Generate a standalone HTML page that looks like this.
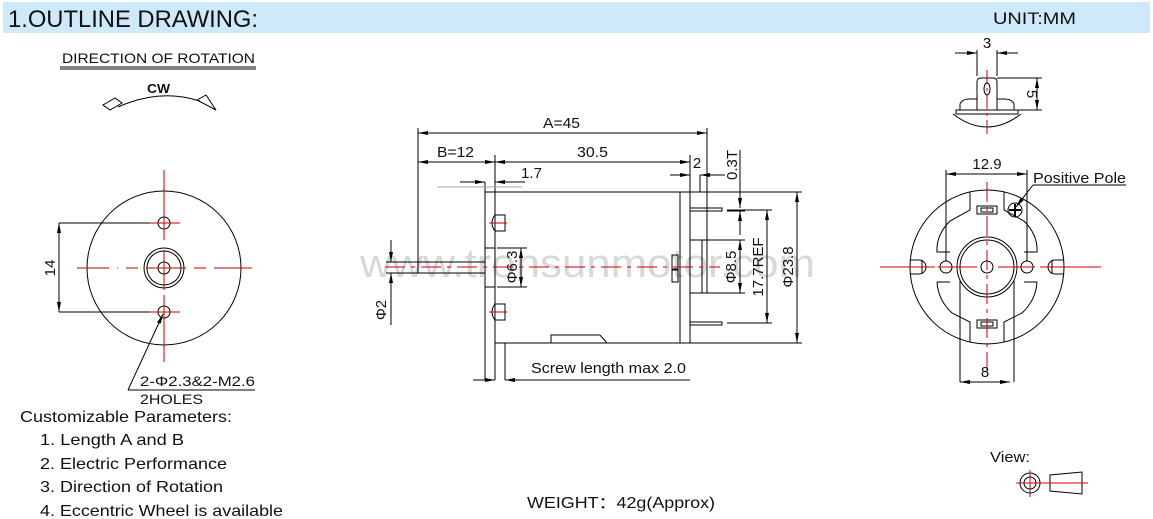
<!DOCTYPE html>
<html><head><meta charset="utf-8"><style>
html,body{margin:0;padding:0;background:#fff}
svg{display:block}
text{font-family:"Liberation Sans",Arial,sans-serif;fill:#111}
</style></head><body>
<svg width="1153" height="519" viewBox="0 0 1153 519" xmlns="http://www.w3.org/2000/svg">
<defs>
<marker id="a" viewBox="0 0 10 4" refX="10" refY="2" markerWidth="10" markerHeight="4" orient="auto-start-reverse" markerUnits="userSpaceOnUse"><path d="M0,0L10,2L0,4z" fill="#000"/></marker>
</defs>
<rect x="3" y="2" width="1147" height="31" fill="#cde9fa"/>
<text x="8" y="27" font-size="24" textLength="250" lengthAdjust="spacingAndGlyphs">1.OUTLINE DRAWING:</text>
<text x="993" y="24" font-size="17" textLength="83" lengthAdjust="spacingAndGlyphs">UNIT:MM</text>

<!-- direction of rotation -->
<text x="62" y="63" font-size="14" textLength="193" lengthAdjust="spacingAndGlyphs">DIRECTION OF ROTATION</text>
<line x1="60" y1="67" x2="256" y2="67" stroke="#000"/><line x1="60" y1="69" x2="256" y2="69" stroke="#000"/>
<text x="147" y="93" font-size="13" font-weight="bold" textLength="23" lengthAdjust="spacingAndGlyphs">CW</text>
<path d="M118,107 Q160,88 200,101" fill="none" stroke="#000"/>
<path d="M103,105 L115,98 L122,103 L110,110 Z" fill="none" stroke="#000"/>
<path d="M197,100 L206,95 L216,110 Z" fill="none" stroke="#000"/>

<!-- left front view -->
<g fill="none" stroke="#000" stroke-width="1">
<circle cx="164" cy="268" r="77"/>
<circle cx="164" cy="268" r="20"/><circle cx="164" cy="268" r="17"/><circle cx="164" cy="268" r="6"/>
<circle cx="164" cy="223" r="6"/><circle cx="164" cy="312" r="6"/>
<line x1="59" y1="223" x2="160" y2="223"/><line x1="59" y1="312" x2="160" y2="312"/>
<line x1="59" y1="223" x2="59" y2="312" marker-start="url(#a)" marker-end="url(#a)"/>
<line x1="128" y1="390" x2="163" y2="314" marker-end="url(#a)"/>
<line x1="128" y1="390" x2="255" y2="390"/>
</g>
<g stroke="#c00" stroke-width="1" fill="none">
<line x1="164" y1="170" x2="164" y2="240"/><line x1="164" y1="250" x2="164" y2="290"/><line x1="164" y1="295" x2="164" y2="362"/>
<line x1="150" y1="223" x2="180" y2="223"/><line x1="150" y1="312" x2="180" y2="312"/>
<line x1="77" y1="268" x2="118" y2="268" stroke-dasharray="32,8"/><line x1="126" y1="268" x2="252" y2="268" stroke-dasharray="12,8,40,8"/>
</g>
<text x="55" y="268" font-size="15" transform="rotate(-90 55 268)" text-anchor="middle">14</text>
<text x="140" y="386" font-size="14" textLength="115" lengthAdjust="spacingAndGlyphs">2-Φ2.3&amp;2-M2.6</text>
<text x="140" y="404" font-size="14" textLength="63" lengthAdjust="spacingAndGlyphs">2HOLES</text>

<!-- watermark -->
<text x="360" y="277" font-size="40" fill="#dadada" style="fill:#d8d8d8" textLength="455" lengthAdjust="spacingAndGlyphs">www.tronsunmotor.com</text>

<!-- motor side view -->
<g fill="none" stroke="#000" stroke-width="1">
<path d="M495,192 L690,192 L690,343 L495,343"/>
<line x1="680" y1="192" x2="680" y2="343"/>
<line x1="495" y1="192" x2="495" y2="380"/><line x1="505" y1="343" x2="505" y2="380"/>
<line x1="485" y1="182" x2="485" y2="380"/>
<line x1="485" y1="192" x2="495" y2="192"/>
<rect x="485" y="248" width="10" height="39"/>
<rect x="418" y="262" width="67" height="11"/>
<path d="M495,215 Q489,223 495,231 M495,215 L505,215 L505,231 L495,231"/>
<path d="M495,304 Q489,312 495,320 M495,304 L505,304 L505,320 L495,320"/>
<path d="M551,343 L551,335 L600,335 L607,343"/>
<rect x="690" y="208" width="32" height="3"/><rect x="690" y="322" width="32" height="3"/>
<path d="M690,240 L702,240 L702,293 L690,293"/>
<rect x="672" y="255" width="6" height="14"/><rect x="672" y="270" width="6" height="12"/>
<line x1="418" y1="128" x2="418" y2="262"/><line x1="707" y1="128" x2="707" y2="293"/>
<line x1="418" y1="133" x2="707" y2="133" marker-start="url(#a)" marker-end="url(#a)"/>
<line x1="418" y1="162" x2="495" y2="162" marker-start="url(#a)" marker-end="url(#a)"/>
<line x1="495" y1="162" x2="690" y2="162" marker-start="url(#a)" marker-end="url(#a)"/>
<line x1="495" y1="155" x2="495" y2="192"/><line x1="690" y1="155" x2="690" y2="192"/>
<line x1="460" y1="182" x2="485" y2="182" marker-end="url(#a)"/><line x1="525" y1="182" x2="495" y2="182" marker-end="url(#a)"/>
<line x1="670" y1="175" x2="690" y2="175" marker-end="url(#a)"/><line x1="725" y1="175" x2="700" y2="175" marker-end="url(#a)"/>
<line x1="700" y1="175" x2="700" y2="192"/>
<line x1="740" y1="150" x2="740" y2="208" marker-end="url(#a)"/><line x1="740" y1="235" x2="740" y2="211" marker-end="url(#a)"/>
<line x1="727" y1="211" x2="745" y2="211"/>
<line x1="702" y1="240" x2="745" y2="240"/><line x1="702" y1="293" x2="745" y2="293"/>
<line x1="740" y1="240" x2="740" y2="293" marker-start="url(#a)" marker-end="url(#a)"/>
<line x1="727" y1="210" x2="772" y2="210"/><line x1="727" y1="323" x2="772" y2="323"/>
<line x1="767" y1="210" x2="767" y2="323" marker-start="url(#a)" marker-end="url(#a)"/>
<line x1="690" y1="192" x2="802" y2="192"/><line x1="690" y1="343" x2="802" y2="343"/>
<line x1="797" y1="192" x2="797" y2="343" marker-start="url(#a)" marker-end="url(#a)"/>
<line x1="497" y1="248" x2="527" y2="248"/><line x1="497" y1="287" x2="527" y2="287"/>
<line x1="521" y1="248" x2="521" y2="287" marker-start="url(#a)" marker-end="url(#a)"/>
<line x1="391" y1="240" x2="391" y2="262" marker-end="url(#a)"/><line x1="391" y1="325" x2="391" y2="273" marker-end="url(#a)"/>
<line x1="386" y1="262" x2="418" y2="262"/><line x1="386" y1="273" x2="418" y2="273"/>
<line x1="473" y1="380" x2="495" y2="380" marker-end="url(#a)"/><line x1="690" y1="380" x2="505" y2="380" marker-end="url(#a)"/>
</g>
<line x1="437" y1="187" x2="522" y2="187" stroke="#aaa"/>
<line x1="385" y1="267" x2="720" y2="267" stroke="#c00" stroke-dasharray="20,6,4,6"/>
<line x1="489" y1="223" x2="507" y2="223" stroke="#c00"/><line x1="489" y1="312" x2="507" y2="312" stroke="#c00"/>
<text x="543" y="128" font-size="15" textLength="37" lengthAdjust="spacingAndGlyphs">A=45</text>
<text x="437" y="157" font-size="15" textLength="37" lengthAdjust="spacingAndGlyphs">B=12</text>
<text x="577" y="157" font-size="15" textLength="31" lengthAdjust="spacingAndGlyphs">30.5</text>
<text x="697" y="168" font-size="15" text-anchor="middle">2</text>
<text x="521" y="178" font-size="15" textLength="21" lengthAdjust="spacingAndGlyphs">1.7</text>
<text x="737" y="165" font-size="15" text-anchor="middle" transform="rotate(-90 737 165)">0.3T</text>
<text x="736" y="267" font-size="15" text-anchor="middle" transform="rotate(-90 736 267)">Φ8.5</text>
<text x="763" y="267" font-size="15" text-anchor="middle" transform="rotate(-90 763 267)">17.7REF</text>
<text x="793" y="267" font-size="15" text-anchor="middle" transform="rotate(-90 793 267)">Φ23.8</text>
<text x="517" y="267" font-size="15" text-anchor="middle" transform="rotate(-90 517 267)">Φ6.3</text>
<text x="386" y="310" font-size="15" text-anchor="middle" transform="rotate(-90 386 310)">Φ2</text>
<text x="531" y="373" font-size="15" textLength="155" lengthAdjust="spacingAndGlyphs">Screw length max 2.0</text>

<!-- right top small view -->
<g fill="none" stroke="#000" stroke-width="1">
<path d="M977,110 L977,82 Q977,78 981,78 L993,78 Q997,78 997,82 L997,110"/>
<ellipse cx="987" cy="89" rx="3" ry="6"/>
<path d="M960,110 L960,104 Q962,99 970,99 L977,99 M997,99 L1004,99 Q1012,99 1014,104 L1014,110"/>
<rect x="956" y="110" width="62" height="4"/>
<path d="M953,114 Q987,140 1021,114"/>
<line x1="977" y1="50" x2="977" y2="76"/><line x1="997" y1="50" x2="997" y2="76"/>
<line x1="955" y1="53" x2="977" y2="53" marker-end="url(#a)"/><line x1="1018" y1="53" x2="997" y2="53" marker-end="url(#a)"/>
<line x1="997" y1="78" x2="1042" y2="78"/><line x1="1018" y1="110" x2="1042" y2="110"/>
<line x1="1037" y1="78" x2="1037" y2="110" marker-start="url(#a)" marker-end="url(#a)"/>
</g>
<line x1="987" y1="70" x2="987" y2="136" stroke="#c00" stroke-dasharray="14,4,3,4"/>
<text x="987" y="48" font-size="15" text-anchor="middle">3</text>
<text x="1027" y="94" font-size="15" text-anchor="middle" transform="rotate(90 1027 94)">5</text>

<!-- right rear view -->
<g fill="none" stroke="#000" stroke-width="1">
<circle cx="987" cy="267" r="77"/>
<path d="M970,192 L970,210 L950,221 Q936,235 937,252 L950,252 M1004,192 L1004,210 L1024,221 Q1038,235 1037,252 L1024,252"/>
<path d="M937,282 L950,282 M1037,282 L1024,282 M937,282 Q938,300 952,313 L970,322 L970,342 M1037,282 Q1036,300 1022,313 L1004,322 L1004,342"/>
<circle cx="987" cy="267" r="30"/><circle cx="987" cy="267" r="27"/>
<path d="M960,280 L960,382 M1014,280 L1014,382"/>
<circle cx="987" cy="267" r="6"/>
<circle cx="946" cy="267" r="6"/><circle cx="1027" cy="267" r="6"/>
<path d="M910,260 L919,260 A7,7 0 0 1 919,274 L910,274 M922,260 L922,274"/>
<path d="M1064,260 L1055,260 A7,7 0 0 0 1055,274 L1064,274 M1052,260 L1052,274"/>
<rect x="977" y="206" width="20" height="8"/><rect x="981" y="208" width="12" height="4"/>
<rect x="977" y="320" width="20" height="8"/><rect x="981" y="322" width="12" height="4"/>
<circle cx="1015" cy="210" r="7"/>
<path d="M1009,210 L1021,210 M1015,204 L1015,216" stroke-width="2"/>
<line x1="1033" y1="185" x2="1016" y2="207" marker-end="url(#a)"/>
<line x1="1033" y1="185" x2="1126" y2="185"/>
<line x1="946" y1="170" x2="946" y2="261"/><line x1="1027" y1="170" x2="1027" y2="261"/>
<line x1="946" y1="174" x2="1027" y2="174" marker-start="url(#a)" marker-end="url(#a)"/>
<line x1="960" y1="382" x2="1010" y2="382" marker-start="url(#a)" marker-end="url(#a)"/>
</g>
<g stroke="#c00" fill="none">
<line x1="880" y1="267" x2="935" y2="267"/><line x1="938" y1="267" x2="977" y2="267"/><line x1="998" y1="267" x2="1035" y2="267"/><line x1="1040" y1="267" x2="1101" y2="267"/>
<line x1="987" y1="182" x2="987" y2="370" stroke-dasharray="20,5,4,5"/>
</g>
<text x="987" y="169" font-size="15" text-anchor="middle">12.9</text>
<text x="985" y="377" font-size="15" text-anchor="middle">8</text>
<text x="1033" y="183" font-size="15" textLength="93" lengthAdjust="spacingAndGlyphs">Positive Pole</text>

<!-- bottom text -->
<text x="20" y="422" font-size="16" textLength="212" lengthAdjust="spacingAndGlyphs">Customizable Parameters:</text>
<text x="40" y="445" font-size="16" textLength="144" lengthAdjust="spacingAndGlyphs">1. Length A and B</text>
<text x="40" y="469" font-size="16" textLength="187" lengthAdjust="spacingAndGlyphs">2. Electric Performance</text>
<text x="40" y="492" font-size="16" textLength="183" lengthAdjust="spacingAndGlyphs">3. Direction of Rotation</text>
<text x="40" y="516" font-size="16" textLength="243" lengthAdjust="spacingAndGlyphs">4. Eccentric Wheel is available</text>
<text x="527" y="508" font-size="16" textLength="188" lengthAdjust="spacingAndGlyphs">WEIGHT：42g(Approx)</text>
<text x="990" y="462" font-size="15" textLength="40" lengthAdjust="spacingAndGlyphs">View:</text>
<g fill="none" stroke="#000">
<circle cx="1030" cy="483" r="10"/><circle cx="1030" cy="483" r="6"/>
<path d="M1050,475 L1050,491 L1082,494 L1082,472 Z"/>
</g>
<g stroke="#c00"><line x1="1016" y1="483" x2="1088" y2="483"/><line x1="1030" y1="470" x2="1030" y2="497"/></g>
</svg>
</body></html>
